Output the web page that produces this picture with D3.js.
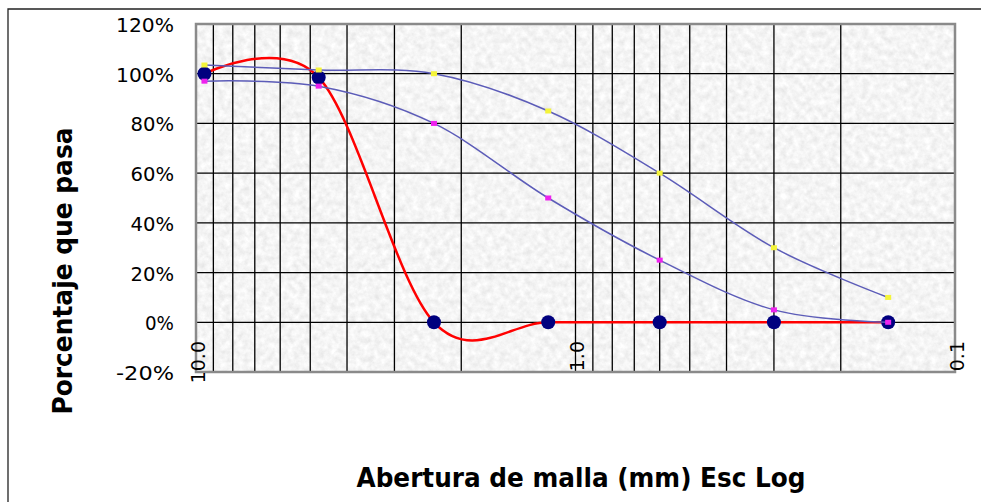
<!DOCTYPE html>
<html>
  <head>
    <title>Curva granulometrica</title>
    <style>
      body { margin: 0; background: #fff; }
      svg { display: block; }
      .tick-label { font-family: "DejaVu Sans", sans-serif; font-size: 19px; fill: #000; }
      .axis-title { font-family: "DejaVu Sans", sans-serif; font-weight: bold; font-size: 27px; fill: #000; }
    </style>
  </head>
  <body>
    <script src="https://cdnjs.cloudflare.com/ajax/libs/d3/7.8.5/d3.min.js"></script>
    <script>
      // Data: sieve openings (mm) and percent passing
      const sieves = [9.5, 4.75, 2.36, 1.18, 0.6, 0.3, 0.15];
      const sample = [100, 98.5, 0, 0, 0, 0, 0];
      const upperLimit = [103.5, 101.5, 100, 85, 60, 30, 10];
      const lowerLimit = [97, 95, 80, 50, 25, 5, 0];
      const yTicks = [-20, 0, 20, 40, 60, 80, 100, 120];
      const xMajor = [10, 1, 0.1];
      const xMajorLabels = ["10.0", "1.0", "0.1"];

      const width = 981, height = 502;
      const plot = { left: 196, right: 955, top: 24, bottom: 372 };

      const svg = d3.select("body").append("svg")
        .attr("width", width)
        .attr("height", height);

      const x = d3.scaleLog().domain([10, 0.1]).range([plot.left, plot.right]);
      const y = d3.scaleLinear().domain([-20, 120]).range([plot.bottom, plot.top]);

      // granite-like texture for the plot area
      const defs = svg.append("defs");
      const filt = defs.append("filter").attr("id", "granite")
        .attr("x", 0).attr("y", 0).attr("width", 1).attr("height", 1);
      filt.append("feTurbulence")
        .attr("type", "fractalNoise")
        .attr("baseFrequency", "0.16")
        .attr("numOctaves", 4)
        .attr("seed", 7)
        .attr("result", "noise");
      filt.append("feColorMatrix")
        .attr("type", "matrix")
        .attr("values", "0.3 0 0 0 0.76  0.3 0 0 0 0.76  0.3 0 0 0 0.76  0 0 0 0 1");
      defs.append("clipPath").attr("id", "plotClip")
        .append("rect")
        .attr("x", plot.left).attr("y", plot.top)
        .attr("width", plot.right - plot.left).attr("height", plot.bottom - plot.top);

      // outer chart border
      svg.append("path")
        .attr("d", `M8,${height} V9 H${width}`)
        .attr("fill", "none")
        .attr("stroke", "#222")
        .attr("stroke-width", 1.3);

      svg.append("rect")
        .attr("x", plot.left).attr("y", plot.top)
        .attr("width", plot.right - plot.left).attr("height", plot.bottom - plot.top)
        .attr("fill", "#e4e4e4")
        .attr("filter", "url(#granite)");

      // log gridlines (1..9 in each decade)
      const xGrid = [];
      [1, 0.1].forEach(function(d) {
        for (let k = 1; k <= 9; k++) xGrid.push(d * k);
      });
      xGrid.push(10);
      svg.append("g").selectAll("line").data(xGrid).join("line")
        .attr("x1", d => x(d)).attr("x2", d => x(d))
        .attr("y1", plot.top).attr("y2", plot.bottom)
        .attr("stroke", "#000").attr("stroke-width", 1.3);
      svg.append("g").selectAll("line").data(yTicks).join("line")
        .attr("x1", plot.left).attr("x2", plot.right)
        .attr("y1", d => y(d)).attr("y2", d => y(d))
        .attr("stroke", "#000").attr("stroke-width", 1.3);

      // plot border
      svg.append("rect")
        .attr("x", plot.left).attr("y", plot.top)
        .attr("width", plot.right - plot.left).attr("height", plot.bottom - plot.top)
        .attr("fill", "none")
        .attr("stroke", "#8a8a8a")
        .attr("stroke-width", 2.5);

      // y tick labels
      svg.append("g").selectAll("text").data(yTicks).join("text")
        .attr("class", "tick-label")
        .attr("x", 174)
        .attr("y", d => y(d) + 1)
        .attr("text-anchor", "end")
        .attr("dominant-baseline", "central")
        .attr("textLength", d => (d + "%").length * 14.5)
        .attr("lengthAdjust", "spacingAndGlyphs")
        .text(d => d + "%");

      // x tick labels, rotated
      svg.append("g").selectAll("text").data(xMajor).join("text")
        .attr("class", "tick-label")
        .attr("transform", d => `translate(${x(d) + 1.5},341) rotate(-90)`)
        .attr("text-anchor", "end")
        .attr("dominant-baseline", "central")
        .text((d, i) => xMajorLabels[i]);

      const line = d3.line()
        .x(d => x(d[0]))
        .y(d => y(d[1]))
        .curve(d3.curveCardinal.tension(0));

      const g = svg.append("g").attr("clip-path", "url(#plotClip)");

      // sample curve
      const samplePts = sieves.map((s, i) => [s, sample[i]]);
      g.append("path")
        .attr("d", line(samplePts))
        .attr("fill", "none")
        .attr("stroke", "#ff0000")
        .attr("stroke-width", 2.5);
      g.selectAll(".dot").data(samplePts).join("circle")
        .attr("class", "dot")
        .attr("cx", d => x(d[0]))
        .attr("cy", d => y(d[1]))
        .attr("r", 7)
        .attr("fill", "#00007f");

      // specification limits
      const bands = [
        { values: upperLimit, color: "#f4f43a" },
        { values: lowerLimit, color: "#ee22ee" }
      ];
      bands.forEach(function(b) {
        const pts = sieves.map((s, i) => [s, b.values[i]]);
        g.append("path")
          .attr("d", line(pts))
          .attr("fill", "none")
          .attr("stroke", "#5c5cb8")
          .attr("stroke-width", 1.5);
        g.selectAll(null).data(pts).join("rect")
          .attr("x", d => x(d[0]) - 3)
          .attr("y", d => y(d[1]) - 2.5)
          .attr("width", 6)
          .attr("height", 5)
          .attr("fill", b.color);
      });

      // axis titles
      svg.append("text")
        .attr("class", "axis-title")
        .attr("x", 581)
        .attr("y", 487)
        .attr("text-anchor", "middle")
        .attr("textLength", 449)
        .attr("lengthAdjust", "spacingAndGlyphs")
        .text("Abertura de malla (mm) Esc Log");
      svg.append("text")
        .attr("class", "axis-title")
        .attr("transform", "translate(72,271) rotate(-90)")
        .attr("text-anchor", "middle")
        .attr("textLength", 287)
        .attr("lengthAdjust", "spacingAndGlyphs")
        .text("Porcentaje que pasa");
    </script>
  </body>
</html>
